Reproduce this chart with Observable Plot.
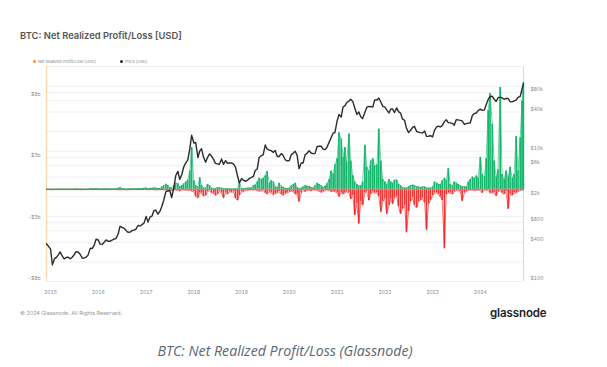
<!DOCTYPE html>
<html>
<head>
<meta charset="utf-8">
<script src="https://cdn.jsdelivr.net/npm/d3@7"></script>
<script src="https://cdn.jsdelivr.net/npm/@observablehq/plot@0.6"></script>
<style>
  html, body { margin: 0; padding: 0; background: #fff; }
  #wrap { position: relative; width: 607px; height: 367px; background: #fff; overflow: hidden; font-family: Inter, "Noto Sans", sans-serif; }
  #chart { position: absolute; left: 0; top: 0; }
  .abs { position: absolute; white-space: nowrap; }
  #title { left: 20px; top: 29.5px; font-size: 9.4px; font-weight: 600; color: #555; }
  .leg { top: 58.5px; font-size: 4px; color: #888; }
  .dot { display: inline-block; width: 3px; height: 3px; border-radius: 50%; margin-right: 2px; vertical-align: middle; position: relative; top: -0.3px; }
  #footer { left: 20px; top: 310px; font-size: 5.4px; color: #999; }
  #logo { left: 490px; top: 306px; font-size: 11.5px; font-weight: 600; color: #222; letter-spacing: -0.1px; }
  #caption { left: 0; width: 570px; text-align: center; top: 341px; font-family: "Open Sans", sans-serif; font-style: italic; font-size: 14.2px; color: #5a6673; }
</style>
</head>
<body>
<div id="wrap">
  <div id="chart"></div>
  <div id="title" class="abs">BTC: Net Realized Profit/Loss [USD]</div>
  <div class="abs leg" style="left:33px"><span class="dot" style="background:#f7931a"></span>Net Realized Profit/Loss [USD]</div>
  <div class="abs leg" style="left:120px"><span class="dot" style="background:#222"></span>Price [USD]</div>
  <div id="footer" class="abs">© 2024 Glassnode. All Rights Reserved.</div>
  <div id="logo" class="abs">glassnode</div>
  <div id="caption" class="abs">BTC: Net Realized Profit/Loss (Glassnode)</div>
</div>
<script>
// ---- Data (semi-monthly samples: 1st and 15th of each month) ----
// Price [USD]
const price2014 = [380, 350]; // Dec 2014
const price2015 = [315, 180, 225, 235, 255, 285, 245, 222, 235, 237, 223, 236, 258, 287, 281, 262, 228, 230, 237, 254, 325, 320, 362, 445];
const price2016 = [434, 375, 372, 400, 435, 415, 416, 430, 450, 455, 536, 700, 675, 660, 605, 570, 572, 608, 615, 638, 730, 710, 752, 780];
const price2017 = [1000, 820, 985, 1010, 1220, 1250, 1080, 1180, 1420, 1750, 2400, 2450, 2500, 1950, 2750, 4200, 4900, 3700, 4400, 5700, 6700, 7300, 10900, 17600];
const price2018 = [13400, 13600, 8000, 10100, 10900, 8200, 6800, 8000, 9100, 8500, 7500, 6500, 6400, 6300, 7600, 6300, 7200, 6500, 6600, 6600, 6350, 5700, 4200, 3250];
const price2019 = [3800, 3600, 3450, 3600, 3800, 3950, 4100, 5050, 5350, 8000, 8550, 8800, 12500, 10800, 10400, 10200, 9600, 10300, 8300, 8300, 9200, 8600, 7400, 7100];
const price2020 = [7200, 8800, 9400, 10000, 8600, 5400, 6600, 6600, 8800, 9300, 10200, 9400, 9200, 9200, 11800, 11900, 11900, 10800, 10600, 11500, 13800, 16000, 19000, 19400];
const price2021 = [29400, 36800, 33500, 48000, 49600, 56000, 58800, 63000, 57800, 46500, 36700, 40200, 33500, 31800, 39800, 47000, 48800, 48200, 48200, 61500, 61300, 65500, 57000, 48900];
const price2022 = [47700, 43100, 38700, 44500, 44400, 39300, 46300, 40500, 38500, 31300, 29800, 22500, 19300, 20800, 23300, 24100, 20100, 19700, 19300, 19100, 20500, 16900, 17000, 17400];
const price2023 = [16600, 20900, 23700, 24300, 23600, 24700, 28500, 30500, 27500, 27200, 26800, 25100, 30600, 30300, 29700, 29200, 25900, 26600, 27000, 27200, 35400, 37900, 38700, 42000];
const price2024 = [44200, 42500, 43100, 52000, 62400, 69400, 69700, 63400, 58000, 66200, 67800, 66000, 62800, 64700, 64600, 57500, 57300, 59200, 60800, 67000, 69500, 91000];
const priceLast = 108000; // 2024-11-25

// Net Realized Profit (positive part), USD billions
const profit2014 = [0.02, 0.02];
const profit2015 = [0.02, 0.02, 0.02, 0.02, 0.03, 0.03, 0.02, 0.02, 0.02, 0.02, 0.02, 0.02, 0.03, 0.04, 0.03, 0.02, 0.02, 0.02, 0.02, 0.03, 0.06, 0.04, 0.05, 0.06];
const profit2016 = [0.05, 0.03, 0.03, 0.04, 0.04, 0.03, 0.03, 0.03, 0.04, 0.04, 0.08, 0.15, 0.06, 0.05, 0.03, 0.03, 0.03, 0.04, 0.04, 0.05, 0.07, 0.05, 0.06, 0.08];
const profit2017 = [0.12, 0.06, 0.08, 0.08, 0.12, 0.1, 0.06, 0.08, 0.18, 0.3, 0.42, 0.32, 0.15, 0.1, 0.3, 0.5, 0.45, 0.2, 0.3, 0.45, 0.6, 0.75, 1.5, 3.4];
const profit2018 = [0.7, 0.3, 0.2, 0.95, 0.3, 0.1, 0.1, 0.4, 0.3, 0.1, 0.05, 0.05, 0.15, 0.12, 0.1, 0.05, 0.05, 0.05, 0.04, 0.03, 0.03, 0.03, 0.05, 0.6];
const profit2019 = [0.05, 0.05, 0.08, 0.1, 0.1, 0.12, 0.3, 0.35, 0.6, 0.9, 0.8, 0.9, 1.1, 1.45, 0.5, 0.7, 0.6, 0.2, 0.15, 0.5, 0.25, 0.15, 0.08, 0.06];
const profit2020 = [0.1, 0.3, 0.4, 0.5, 0.15, 0.05, 0.1, 0.2, 0.3, 0.25, 0.25, 0.15, 0.12, 0.3, 0.5, 0.4, 0.3, 0.15, 0.25, 0.45, 0.8, 1.5, 1.2, 2.0];
const profit2021 = [2.5, 4.6, 4.1, 2.6, 3.4, 2.2, 4.5, 2.3, 1.1, 0.6, 0.4, 0.3, 0.3, 0.6, 3.6, 1.8, 1.5, 2.3, 2.5, 1.9, 2.0, 4.9, 2.3, 0.8];
const profit2022 = [0.6, 0.4, 0.8, 0.6, 0.5, 0.75, 0.75, 0.4, 0.3, 0.15, 0.1, 0.1, 0.2, 0.3, 0.35, 0.3, 0.2, 0.2, 0.15, 0.2, 0.2, 0.1, 0.1, 0.1];
const profit2023 = [0.2, 0.6, 0.5, 0.4, 0.4, 0.7, 0.9, 0.7, 1.7, 0.4, 0.3, 0.6, 0.5, 0.4, 0.3, 0.2, 0.2, 0.2, 0.6, 0.8, 1.0, 0.9, 1.1, 0.9];
const profit2024 = [2.6, 1.2, 1.0, 2.5, 6.4, 7.8, 5.3, 2.3, 1.0, 1.6, 8.3, 1.2, 0.8, 1.5, 1.0, 1.8, 0.9, 1.2, 4.3, 1.5, 4.2, 7.2];
const profitLast = 8.7;

// Net Realized Loss (negative part), USD billions
const loss2014 = [-0.02, -0.02];
const loss2015 = [-0.02, -0.05, -0.02, -0.02, -0.02, -0.02, -0.02, -0.02, -0.02, -0.02, -0.02, -0.02, -0.02, -0.02, -0.02, -0.04, -0.02, -0.02, -0.02, -0.02, -0.02, -0.03, -0.02, -0.02];
const loss2016 = [-0.02, -0.03, -0.02, -0.02, -0.02, -0.02, -0.02, -0.02, -0.02, -0.02, -0.02, -0.04, -0.03, -0.02, -0.05, -0.02, -0.02, -0.02, -0.02, -0.02, -0.02, -0.02, -0.02, -0.02];
const loss2017 = [-0.02, -0.04, -0.02, -0.02, -0.03, -0.05, -0.03, -0.02, -0.03, -0.04, -0.06, -0.08, -0.08, -0.1, -0.03, -0.05, -0.08, -0.15, -0.04, -0.05, -0.06, -0.1, -0.08, -0.15];
const loss2018 = [-0.2, -0.6, -0.7, -0.3, -0.3, -0.55, -0.5, -0.2, -0.1, -0.3, -0.35, -0.5, -0.4, -0.15, -0.3, -0.7, -0.3, -0.4, -0.2, -0.25, -0.2, -0.75, -0.9, -0.5];
const loss2019 = [-0.2, -0.2, -0.1, -0.1, -0.05, -0.05, -0.05, -0.05, -0.1, -0.15, -0.15, -0.1, -0.3, -0.4, -0.2, -0.3, -0.45, -0.35, -0.3, -0.2, -0.4, -0.5, -0.35, -0.3];
const loss2020 = [-0.2, -0.15, -0.2, -0.4, -0.4, -1.0, -0.3, -0.1, -0.2, -0.1, -0.1, -0.15, -0.05, -0.05, -0.1, -0.15, -0.25, -0.2, -0.1, -0.05, -0.1, -0.2, -0.15, -0.2];
const loss2021 = [-0.3, -0.6, -0.3, -0.4, -0.3, -0.2, -0.3, -0.8, -0.5, -2.1, -1.2, -2.8, -1.0, -1.3, -0.3, -0.2, -0.9, -0.4, -0.2, -0.3, -0.3, -0.6, -1.85, -1.0];
const loss2022 = [-0.8, -2.0, -1.3, -0.8, -1.2, -0.7, -0.6, -1.4, -2.0, -1.6, -1.3, -3.5, -1.8, -1.0, -0.7, -1.3, -1.5, -1.0, -0.9, -0.7, -1.1, -3.3, -1.2, -0.9];
const loss2023 = [-0.5, -0.3, -0.3, -0.4, -0.6, -0.9, -4.8, -0.4, -0.3, -0.3, -0.4, -0.2, -0.1, -0.1, -0.2, -0.95, -0.3, -0.2, -0.1, -0.05, -0.05, -0.1, -0.1, -0.05];
const loss2024 = [-0.1, -0.3, -0.05, -0.05, -0.1, -0.3, -0.3, -0.3, -0.55, -0.2, -0.1, -0.3, -0.4, -0.2, -1.6, -0.4, -0.5, -0.3, -0.3, -0.2, -0.1, -0.05];
const lossLast = -0.05;

// Axis ticks / labels
const years = [2015, 2016, 2017, 2018, 2019, 2020, 2021, 2022, 2023, 2024];
const plTicks = [-7.5, -2.5, 2.5, 7.5];              // USD billions
const plTickLabels = ["-$8b", "-$3b", "$3b", "$8b"];
const priceTicks = [100, 400, 800, 2000, 6000, 10000, 40000, 80000];
const priceTickLabels = ["$100", "$400", "$800", "$2k", "$6k", "$10k", "$40k", "$80k"];
const gridPrices = [100, 200, 400, 600, 800, 1000, 2000, 4000, 6000, 8000, 10000, 20000, 40000, 60000, 80000, 100000, 200000];

// ---- Build rows ----
const blocks = [
  [2014, 11, price2014, profit2014, loss2014],
  [2015, 0, price2015, profit2015, loss2015],
  [2016, 0, price2016, profit2016, loss2016],
  [2017, 0, price2017, profit2017, loss2017],
  [2018, 0, price2018, profit2018, loss2018],
  [2019, 0, price2019, profit2019, loss2019],
  [2020, 0, price2020, profit2020, loss2020],
  [2021, 0, price2021, profit2021, loss2021],
  [2022, 0, price2022, profit2022, loss2022],
  [2023, 0, price2023, profit2023, loss2023],
  [2024, 0, price2024, profit2024, loss2024]
];
const rows = [];
for (const [yr, m0, pr, pf, ls] of blocks) {
  pr.forEach((p, i) => {
    rows.push({
      date: new Date(Date.UTC(yr, m0 + Math.floor(i / 2), i % 2 ? 15 : 1)),
      price: p, profit: pf[i], loss: ls[i]
    });
  });
}
rows.push({date: new Date(Date.UTC(2024, 10, 25)), price: priceLast, profit: profitLast, loss: lossLast});

// ---- Dual-axis mapping: P/L linear [-7.5, 10] shares the frame with log price [100, 200k] ----
const plDomain = [-7.5, 10];
const priceDomain = [100, 200000];
const pToY = p => plDomain[0] + (plDomain[1] - plDomain[0]) *
  (Math.log10(p) - Math.log10(priceDomain[0])) / (Math.log10(priceDomain[1]) - Math.log10(priceDomain[0]));

const xDomain = [new Date(Date.UTC(2014, 11, 1)), new Date(Date.UTC(2024, 10, 26))];
const green = "#14b66c";
const red = "#ee1f1f";
const tickColor = "#8a8a8a";

const chart = Plot.plot({
  width: 607,
  height: 300,
  marginLeft: 46,
  marginRight: 84,
  marginTop: 66,
  marginBottom: 19,
  style: {background: "transparent", fontFamily: "Inter, 'Noto Sans', sans-serif", overflow: "visible"},
  x: {type: "utc", domain: xDomain},
  y: {domain: plDomain},
  marks: [
    Plot.ruleY(gridPrices, {y: p => pToY(p), stroke: "#ececec", strokeWidth: 0.8}),
    Plot.ruleX([xDomain[1]], {stroke: "#d9d9d9", strokeWidth: 1}),
    Plot.ruleX([xDomain[0]], {stroke: "#f7931a", strokeOpacity: 0.35, strokeWidth: 1.3}),
    Plot.ruleX(rows, {x: "date", y1: 0, y2: "profit", stroke: green, strokeWidth: 1.7}),
    Plot.ruleX(rows, {x: "date", y1: 0, y2: "loss", stroke: red, strokeWidth: 1.6, strokeOpacity: 0.9}),
    Plot.ruleY([0], {stroke: "#9b9b9b", strokeWidth: 1}),
    Plot.lineY(rows, {x: "date", y: "profit", stroke: green, strokeWidth: 0.6}),
    Plot.lineY(rows, {x: "date", y: "loss", stroke: red, strokeWidth: 0.6}),
    Plot.lineY(rows, {x: "date", y: d => pToY(d.price), stroke: "#2b2b2b", strokeWidth: 1.4}),
    Plot.axisY({anchor: "left", ticks: plTicks, tickFormat: v => plTickLabels[plTicks.indexOf(v)],
      tickSize: 0, tickPadding: 6, fontSize: 5, fill: tickColor, label: null, dy: -3}),
    Plot.axisY({anchor: "right", ticks: priceTicks.map(pToY),
      tickFormat: v => priceTickLabels[priceTicks.findIndex(p => Math.abs(pToY(p) - v) < 1e-9)],
      tickSize: 0, tickPadding: 7, fontSize: 5, fill: tickColor, label: null, dy: -3}),
    Plot.axisX({ticks: years.map(y => new Date(Date.UTC(y, 0, 1))), tickFormat: d3.utcFormat("%Y"),
      tickSize: 0, tickPadding: 9, fontSize: 5, fill: tickColor, label: null})
  ]
});
document.getElementById("chart").appendChild(chart);
</script>
</body>
</html>
